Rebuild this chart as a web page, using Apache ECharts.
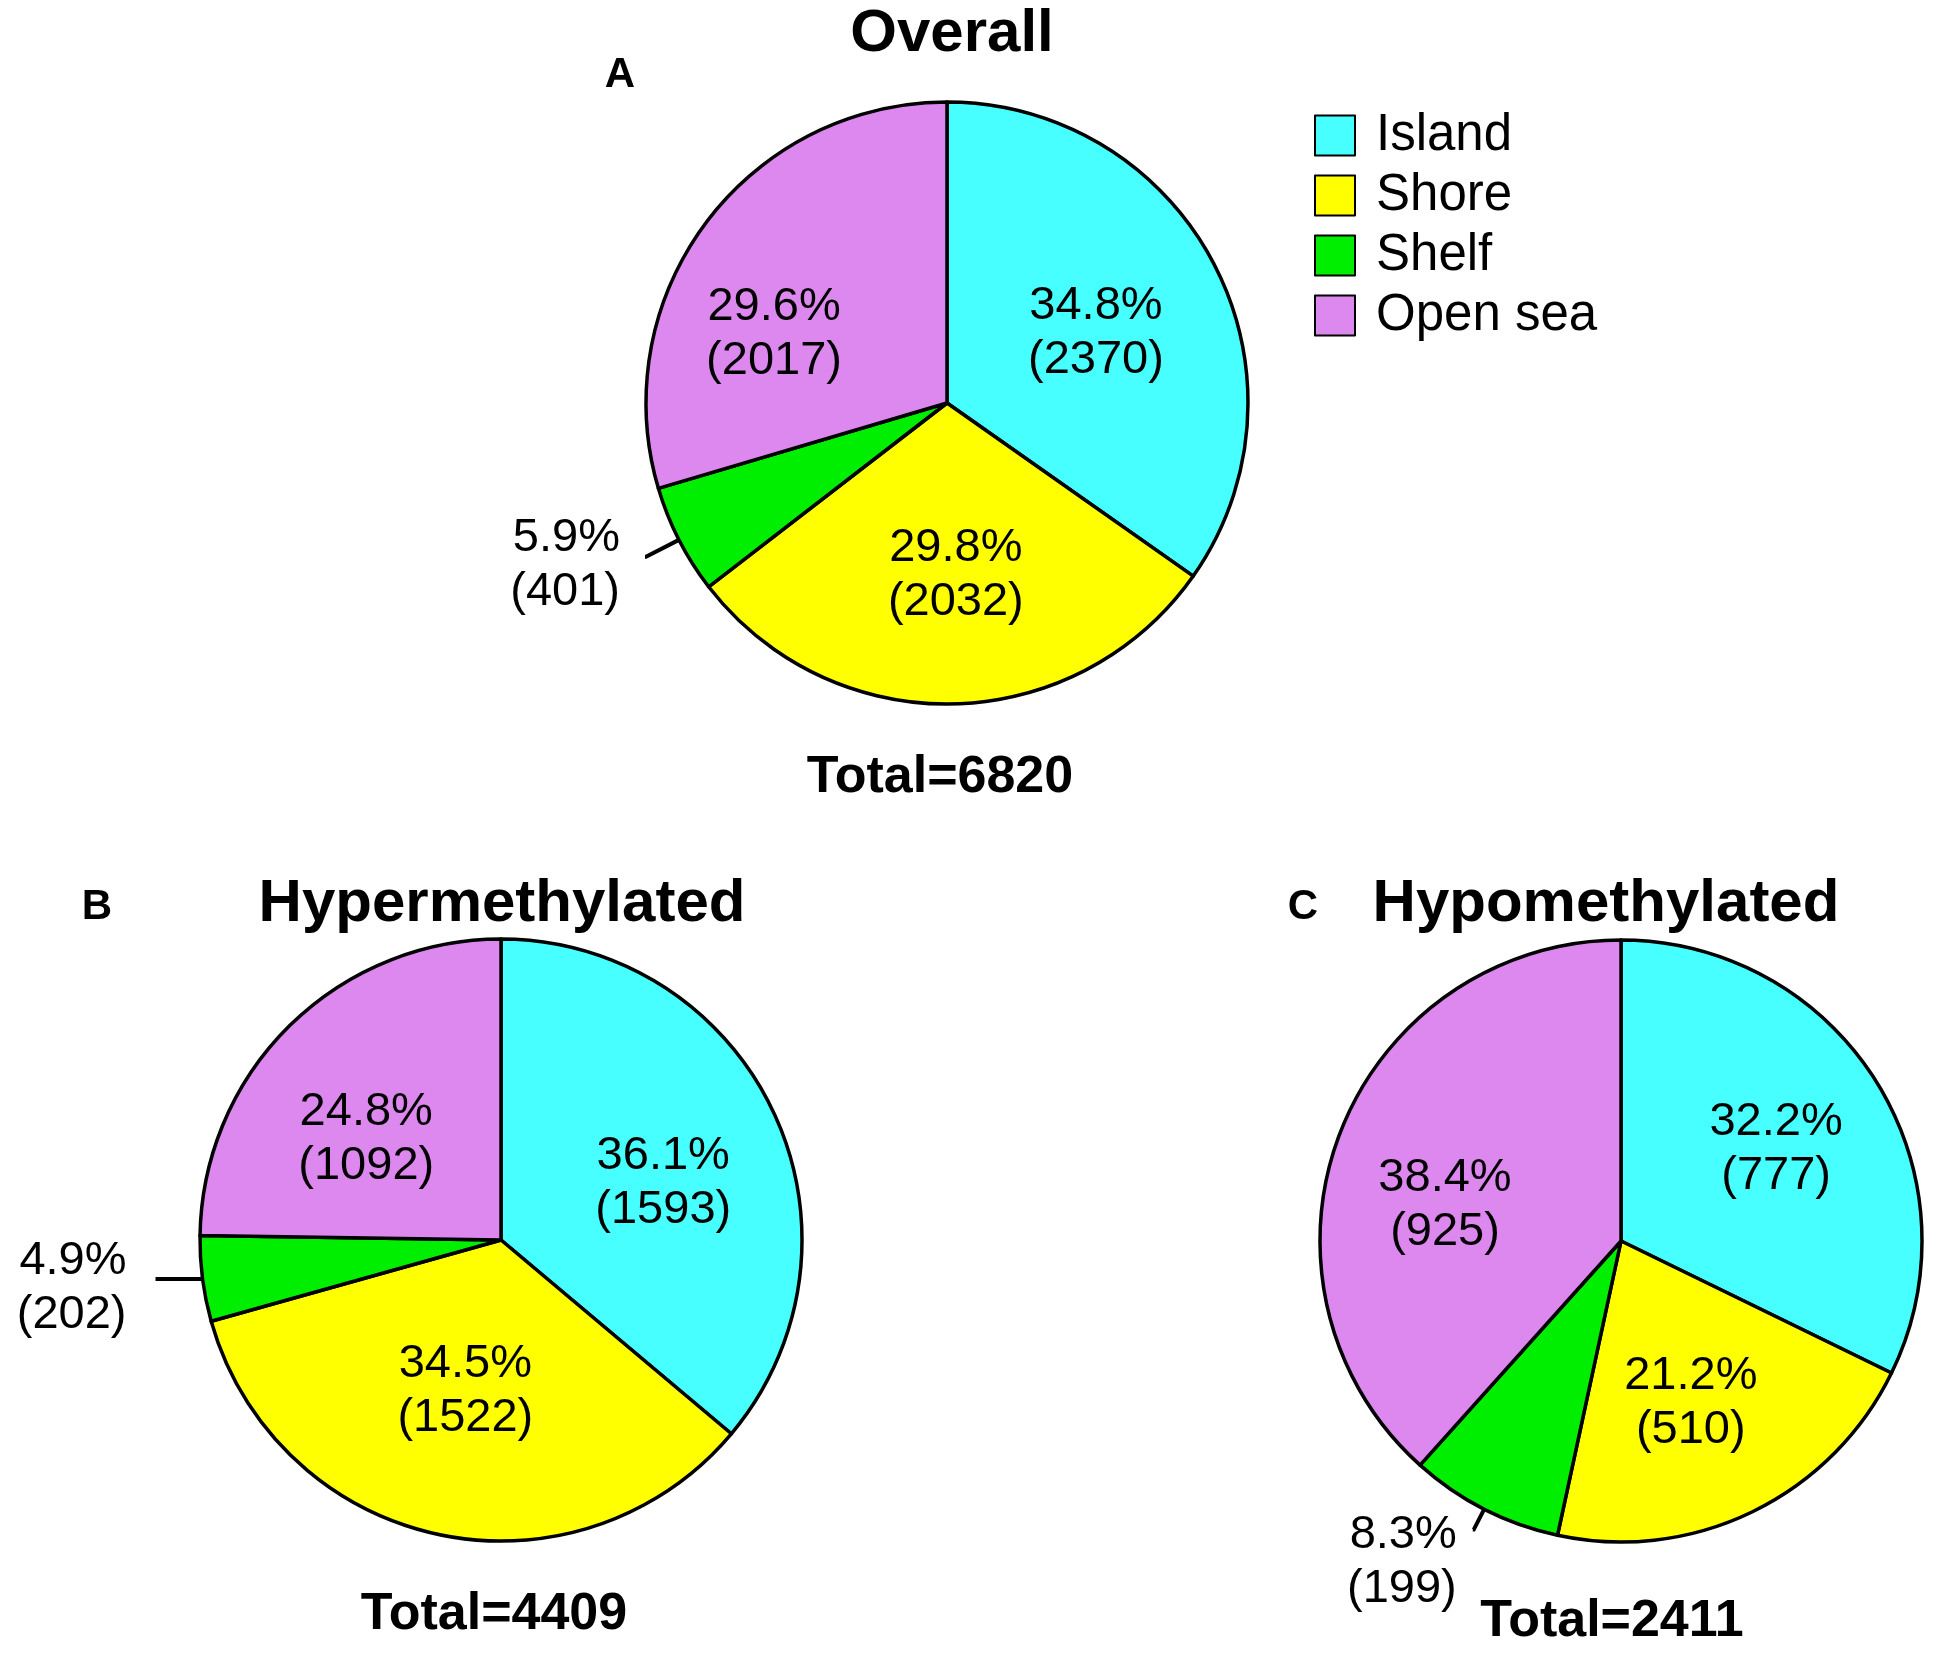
<!DOCTYPE html>
<html>
<head>
<meta charset="utf-8">
<script src="https://cdn.jsdelivr.net/npm/echarts@6/dist/echarts.min.js"></script>
<style>
html, body { margin: 0; padding: 0; background: #fff; }
#chart1 { width: 1939px; height: 1658px; }
</style>
</head>
<body>
<div id="chart1"></div>
<script>
var categories = ['Island', 'Shore', 'Shelf', 'Open sea'];
var colors = ['#48FFFF', '#FFFF00', '#00EE00', '#DD88EE'];

// counts per region (drawn slices)
var overallCounts = [2370, 2032, 401, 2017];
var hyperCounts = [1593, 1522, 202, 1092];
var hypoCounts = [777, 510, 199, 925];

// percentages as printed on the figure
var overallPct = ['34.8', '29.8', '5.9', '29.6'];
var hyperPct = ['36.1', '34.5', '4.9', '24.8'];
var hypoPct = ['32.2', '21.2', '8.3', '38.4'];

var pcts = [overallPct, hyperPct, hypoPct];

// layout tweaks
var centers = [[947, 403], [501, 1240], [1621, 1241]];
var labelNudge = [
    [[-5, 10], [5, -1], [0, 8], [-34, 35]],
    [[5, 16], [1, -18], [-4, 9], [-13, 23]],
    [[8, 0], [-6, 6], [-16, 32], [-14, 26]]
];

function sum(arr) {
    return arr.reduce(function (a, b) { return a + b; }, 0);
}

function makeData(counts, shelfLabel) {
    return counts.map(function (v, i) {
        var item = { name: categories[i], value: v, itemStyle: { color: colors[i] } };
        if (i === 2) {
            item.label = { position: 'outside', distanceToLabelLine: shelfLabel.dist };
            item.labelLine = {
                show: true, length: shelfLabel.len, length2: shelfLabel.len2,
                lineStyle: { color: '#000', width: 4 }
            };
        }
        return item;
    });
}

function pieSeries(idx, counts, shelfLabel) {
    return {
        type: 'pie',
        radius: 301,
        center: centers[idx],
        startAngle: 90,
        clockwise: true,
        animation: false,
        avoidLabelOverlap: false,
        itemStyle: { borderColor: '#000', borderWidth: 3.5 },
        emphasis: { scale: false },
        label: {
            show: true,
            position: 'inside',
            color: '#000',
            fontFamily: 'Liberation Sans',
            fontSize: 47,
            lineHeight: 54,
            formatter: function (p) {
                return pcts[idx][p.dataIndex] + '%\n(' + p.value + ')';
            }
        },
        labelLayout: function (p) {
            var n = labelNudge[idx][p.dataIndex];
            if (p.dataIndex === 2) return { dx: n[0], dy: n[1] };
            var r = p.labelRect;
            var lx = r.x + r.width / 2, ly = r.y + r.height / 2;
            return {
                dx: (lx - centers[idx][0]) * 0.13 + n[0],
                dy: (ly - centers[idx][1]) * 0.13 + n[1]
            };
        },
        data: makeData(counts, shelfLabel)
    };
}

function txt(x, y, s, size) {
    return {
        type: 'text', x: x, y: y, silent: true,
        style: {
            text: s, fill: '#000',
            font: 'bold ' + size + 'px "Liberation Sans", Arial, sans-serif',
            align: 'center', verticalAlign: 'middle',
            textAlign: 'center', textVerticalAlign: 'middle'
        }
    };
}

var chart1 = echarts.init(document.getElementById('chart1'));
var option1 = {
    backgroundColor: '#fff',
    animation: false,
    legend: {
        data: categories,
        orient: 'vertical',
        left: 1309,
        top: 105,
        icon: 'rect',
        itemWidth: 40,
        itemHeight: 40,
        itemGap: 9,
        selectedMode: false,
        itemStyle: { borderColor: '#000', borderWidth: 2 },
        textStyle: {
            color: '#000', fontFamily: 'Liberation Sans', fontSize: 51,
            lineHeight: 50, padding: [0, 0, 0, 16]
        }
    },
    graphic: [
        txt(952, 34, 'Overall', 60),
        txt(620, 75, 'A', 42),
        txt(940, 778, 'Total=' + sum(overallCounts), 52),
        txt(97, 907, 'B', 42),
        txt(502, 904, 'Hypermethylated', 60),
        txt(494, 1615, 'Total=' + sum(hyperCounts), 52),
        txt(1303, 907, 'C', 42),
        txt(1606, 904, 'Hypomethylated', 60),
        txt(1612, 1622, 'Total=' + sum(hypoCounts), 52)
    ],
    series: [
        pieSeries(0, overallCounts, { len: 37, len2: 1, dist: 25 }),
        pieSeries(1, hyperCounts, { len: 1, len2: 46, dist: 25 }),
        pieSeries(2, hypoCounts, { len: 23, len2: 1, dist: 0 })
    ]
};
chart1.setOption(option1);
</script>
</body>
</html>
